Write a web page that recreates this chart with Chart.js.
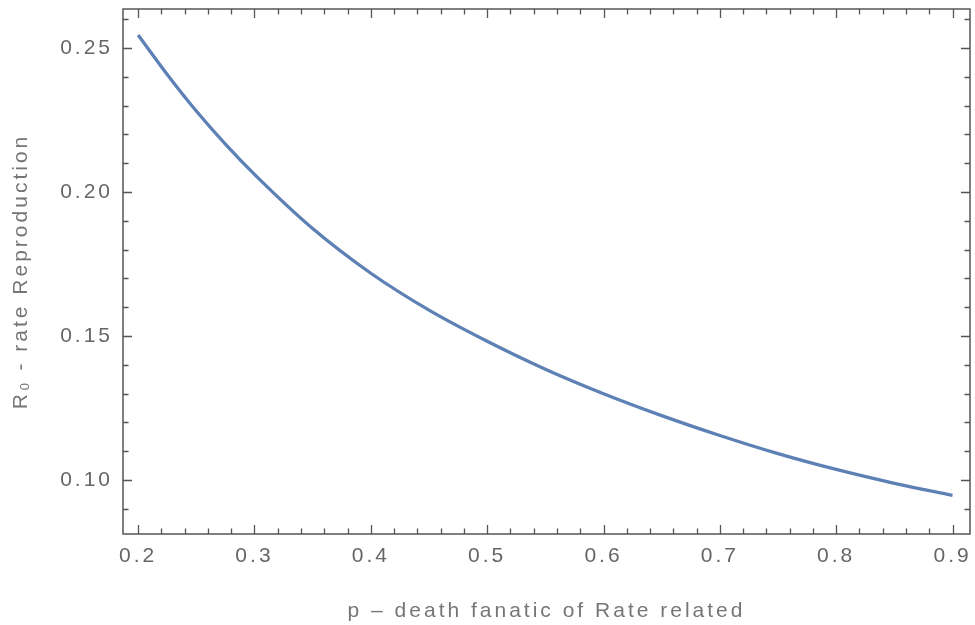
<!DOCTYPE html>
<html>
<head>
<meta charset="utf-8">
<script src="https://cdn.jsdelivr.net/npm/chart.js@4"></script>
<style>
  html, body { margin: 0; padding: 0; background: #ffffff; }
  #wrap { width: 975px; height: 625px; position: relative; }
</style>
</head>
<body>
<div id="wrap"><canvas id="c" width="975" height="625"></canvas></div>
<script>
// ---- data ----
const pValues = [0.20, 0.225, 0.25, 0.275, 0.30, 0.35, 0.40, 0.45, 0.50, 0.55, 0.60, 0.65, 0.70, 0.75, 0.80, 0.85, 0.90];
const r0Values = [0.2545, 0.2408, 0.2281, 0.2166, 0.2061, 0.1873, 0.1718, 0.1590, 0.1482, 0.1385, 0.1300, 0.1224, 0.1155, 0.1092, 0.1037, 0.0989, 0.0947];

const xTickValues = [0.2, 0.3, 0.4, 0.5, 0.6, 0.7, 0.8, 0.9];
const xTickLabels = ['0.2', '0.3', '0.4', '0.5', '0.6', '0.7', '0.8', '0.9'];
const yTickValues = [0.10, 0.15, 0.20, 0.25];
const yTickLabels = ['0.10', '0.15', '0.20', '0.25'];
const xMinorStep = 0.02;
const yMinorStep = 0.01;

const xTitle = 'p – death fanatic of Rate related';
const yTitle = 'R₀ - rate Reproduction';

const points = pValues.map((p, i) => ({ x: p, y: r0Values[i] }));

const spacingPlugin = {
  id: 'spacing',
  beforeUpdate(chart) { chart.ctx.letterSpacing = '3px'; },
  beforeLayout(chart) { chart.ctx.letterSpacing = '3px'; },
  beforeDraw(chart) { chart.ctx.letterSpacing = '3px'; }
};

const framePlugin = {
  id: 'frame',
  afterDraw(chart) {
    const { ctx, chartArea: a, scales } = chart;
    const xs = scales.x, ys = scales.y;
    ctx.save();
    ctx.letterSpacing = '0px';
    ctx.strokeStyle = '#555555';
    ctx.lineWidth = 1.5;
    ctx.strokeRect(a.left, a.top, a.right - a.left, a.bottom - a.top);
    ctx.lineWidth = 1.3;
    ctx.beginPath();
    const xStart = Math.ceil(xs.min / xMinorStep - 1e-9);
    const xEnd = Math.floor(xs.max / xMinorStep + 1e-9);
    for (let k = xStart; k <= xEnd; k++) {
      const v = k * xMinorStep;
      const major = Math.abs(v * 10 - Math.round(v * 10)) < 1e-6;
      const len = major ? 9 : 5.5;
      const px = Math.round(xs.getPixelForValue(v)) + 0.5;
      ctx.moveTo(px, a.bottom); ctx.lineTo(px, a.bottom - len);
      ctx.moveTo(px, a.top); ctx.lineTo(px, a.top + len);
    }
    const yStart = Math.ceil(ys.min / yMinorStep - 1e-9);
    const yEnd = Math.floor(ys.max / yMinorStep + 1e-9);
    for (let k = yStart; k <= yEnd; k++) {
      const v = k * yMinorStep;
      const major = Math.abs(v * 20 - Math.round(v * 20)) < 1e-6;
      const len = major ? 9 : 5.5;
      const py = Math.round(ys.getPixelForValue(v)) + 0.5;
      ctx.moveTo(a.left, py); ctx.lineTo(a.left + len, py);
      ctx.moveTo(a.right, py); ctx.lineTo(a.right - len, py);
    }
    ctx.stroke();
    ctx.restore();
  }
};

new Chart(document.getElementById('c'), {
  type: 'line',
  data: {
    datasets: [{
      data: points,
      borderColor: '#5E81B5',
      borderWidth: 3.3,
      pointRadius: 0,
      pointHoverRadius: 0,
      fill: false,
      cubicInterpolationMode: 'monotone'
    }]
  },
  options: {
    responsive: false,
    animation: false,
    events: [],
    layout: { padding: { top: 9, right: 5, bottom: 0, left: 0 } },
    plugins: { legend: { display: false }, tooltip: { enabled: false } },
    scales: {
      x: {
        type: 'linear',
        min: 0.187,
        max: 0.915,
        grid: { display: false, drawTicks: false, tickLength: 0 },
        border: { display: false },
        afterBuildTicks(scale) { scale.ticks = xTickValues.map(v => ({ value: v })); },
        afterFit(scale) { scale.height = 91; scale.paddingLeft = 0; scale.paddingRight = 0; },
        ticks: {
          autoSkip: false,
          maxRotation: 0,
          padding: 10,
          color: '#666666',
          font: { family: "'Liberation Sans', Arial, sans-serif", size: 21 },
          callback(value) {
            const i = xTickValues.findIndex(t => Math.abs(t - value) < 1e-9);
            return i >= 0 ? xTickLabels[i] : '';
          }
        },
        title: {
          display: true,
          text: xTitle,
          color: '#767676',
          padding: { top: 0, bottom: 1 },
          font: { family: "'Liberation Sans', Arial, sans-serif", size: 21 }
        }
      },
      y: {
        type: 'linear',
        min: 0.0813,
        max: 0.2635,
        grid: { display: false, drawTicks: false, tickLength: 0 },
        border: { display: false },
        afterBuildTicks(scale) { scale.ticks = yTickValues.map(v => ({ value: v })); },
        afterFit(scale) { scale.width = 123; scale.paddingTop = 0; scale.paddingBottom = 0; },
        ticks: {
          autoSkip: false,
          padding: 10,
          color: '#666666',
          font: { family: "'Liberation Sans', Arial, sans-serif", size: 21 },
          callback(value) {
            const i = yTickValues.findIndex(t => Math.abs(t - value) < 1e-9);
            return i >= 0 ? yTickLabels[i] : '';
          }
        },
        title: {
          display: true,
          text: yTitle,
          color: '#767676',
          padding: { top: 9, bottom: 0 },
          font: { family: "'Liberation Sans', Arial, sans-serif", size: 21 }
        }
      }
    }
  },
  plugins: [spacingPlugin, framePlugin]
});
</script>
</body>
</html>
